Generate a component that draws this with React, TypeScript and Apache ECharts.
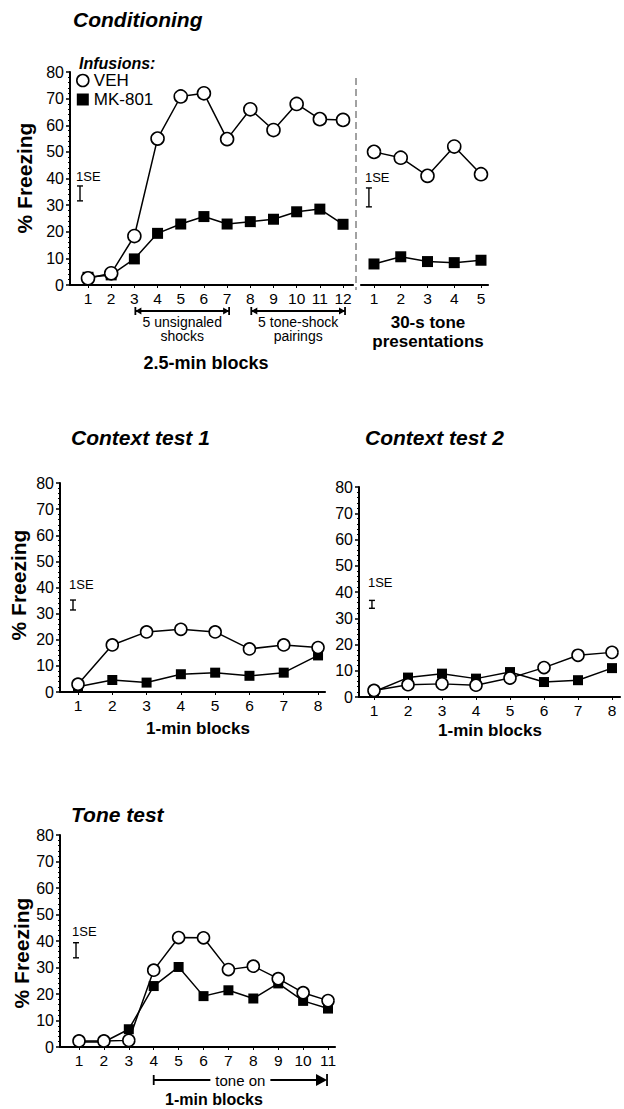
import React, { useEffect, useRef } from "react";
import * as echarts from "echarts";

// ---------- data ----------
const condBlocks = [1, 2, 3, 4, 5, 6, 7, 8, 9, 10, 11, 12];
const condVEH = [2.5, 4.4, 18.4, 55, 70.8, 72, 54.8, 66, 58.2, 68, 62.3, 62];
const condMK = [2.9, 3.8, 9.8, 19.4, 22.9, 25.7, 22.9, 23.8, 24.7, 27.5, 28.5, 22.8];

const presTrials = [1, 2, 3, 4, 5];
const presVEH = [50, 47.8, 41, 52, 41.6];
const presMK = [7.9, 10.6, 8.8, 8.4, 9.3];

const ctxBlocks = [1, 2, 3, 4, 5, 6, 7, 8];
const ctx1VEH = [3, 18, 23, 24, 23, 16.5, 18, 17];
const ctx1MK = [2, 4.6, 3.6, 6.8, 7.4, 6.2, 7.4, 14];
const ctx2VEH = [2.5, 4.7, 5, 4.5, 7.2, 11.2, 15.9, 17];
const ctx2MK = [2, 7.4, 8.9, 7, 9.5, 5.7, 6.4, 11];

const toneBlocks = [1, 2, 3, 4, 5, 6, 7, 8, 9, 10, 11];
const toneVEH = [2.3, 2.3, 2.5, 29, 41.3, 41.2, 29.2, 30.5, 25.8, 20.5, 17.5];
const toneMK = [1.9, 1.9, 6.7, 23, 30.2, 19.2, 21.4, 18.3, 24, 17.4, 14.5];

// 1 SE sizes (in % freezing units) per panel
const seSizes = [5.6, 7.1, 3.8, 3.0, 5.7];

// annotation ranges (block numbers)
const condPhases = [
  [3, 7],
  [8, 12],
];
const condPhaseLabels = [
  ["5 unsignaled", "shocks"],
  ["5 tone-shock", "pairings"],
];
const tonePhase = [[4, 11]];

// ---------- layout ----------
const FONT = "'Liberation Sans', Arial, Helvetica, sans-serif";
const panels = [
  { left: 70, width: 283, top: 72, height: 213, min: 0.2235, max: 12.43, ticks: condBlocks, showY: true },
  { left: 361, width: 127, top: 72, height: 213, min: 0.514, max: 5.262, ticks: presTrials, showY: false },
  { left: 60, width: 265, top: 483, height: 209, min: 0.475, max: 8.203, ticks: ctxBlocks, showY: true },
  { left: 359, width: 261, top: 487, height: 210, min: 0.559, max: 8.235, ticks: ctxBlocks, showY: true },
  { left: 60, width: 275, top: 835, height: 212, min: 0.237, max: 11.28, ticks: toneBlocks, showY: true },
];
// SE bar placement (x in block units, centre in % units, label gap px)
const sePlace = [
  { x: 0.655, y: 34.4, gap: 3 },
  { x: 0.81, y: 32.9, gap: 4 },
  { x: 0.854, y: 33.3, gap: 9 },
  { x: 0.94, y: 35.3, gap: 11 },
  { x: 0.88, y: 36.5, gap: 5 },
];

const seriesSets = [
  { x: condBlocks, veh: condVEH, mk: condMK, vs: 13, ms: 11 },
  { x: presTrials, veh: presVEH, mk: presMK, vs: 13, ms: 11 },
  { x: ctxBlocks, veh: ctx1VEH, mk: ctx1MK, vs: 12, ms: 10 },
  { x: ctxBlocks, veh: ctx2VEH, mk: ctx2MK, vs: 12, ms: 10 },
  { x: toneBlocks, veh: toneVEH, mk: toneMK, vs: 12, ms: 10 },
];

function buildOption(): any {
  const grid = panels.map((p) => ({ left: p.left, top: p.top, width: p.width, height: p.height, containLabel: false }));
  const xAxis = panels.map((p, i) => ({
    type: "value",
    gridIndex: i,
    min: p.min,
    max: p.max,
    axisLine: { show: true, onZero: false, lineStyle: { color: "#000", width: 2.2 } },
    axisTick: { show: true, length: 3, customValues: p.ticks, lineStyle: { color: "#000", width: 1 } },
    axisLabel: { customValues: p.ticks, fontSize: 15.5, color: "#000", fontFamily: FONT, margin: 5 },
    splitLine: { show: false },
  }));
  const yAxis = panels.map((p, i) => ({
    type: "value",
    gridIndex: i,
    min: 0,
    max: 80,
    interval: 10,
    show: p.showY,
    axisLine: { show: true, onZero: false, lineStyle: { color: "#000", width: 2 } },
    axisTick: { show: true, length: 4, lineStyle: { color: "#000", width: 1.5 } },
    minorTick: { show: true, splitNumber: 5, length: 2, lineStyle: { color: "#000", width: 1 } },
    axisLabel: { fontSize: 16, color: "#000", fontFamily: FONT, margin: 6 },
    splitLine: { show: false },
  }));

  const series: any[] = [];
  seriesSets.forEach((s, i) => {
    series.push({
      type: "line",
      name: "MK-801",
      xAxisIndex: i,
      yAxisIndex: i,
      data: s.x.map((x, k) => [x, s.mk[k]]),
      symbol: "rect",
      symbolSize: s.ms,
      showAllSymbol: true,
      itemStyle: { color: "#000" },
      lineStyle: { color: "#000", width: 1.5 },
      z: 2,
      silent: true,
    });
    series.push({
      type: "line",
      name: "VEH",
      xAxisIndex: i,
      yAxisIndex: i,
      data: s.x.map((x, k) => [x, s.veh[k]]),
      symbol: "circle",
      symbolSize: s.vs,
      showAllSymbol: true,
      itemStyle: { color: "#fff", borderColor: "#000", borderWidth: 1.6 },
      lineStyle: { color: "#000", width: 1.5 },
      z: 3,
      silent: true,
    });
    // 1 SE indicator
    const pl = sePlace[i];
    series.push({
      type: "custom",
      xAxisIndex: i,
      yAxisIndex: i,
      data: [[pl.x, pl.y, seSizes[i]]],
      silent: true,
      z: 4,
      renderItem: (params: any, api: any) => {
        const x = api.value(0);
        const yc = api.value(1);
        const h = api.value(2) / 2;
        const top = api.coord([x, yc + h]);
        const bot = api.coord([x, yc - h]);
        const cx = top[0];
        const st = { stroke: "#000", lineWidth: 1.4 };
        return {
          type: "group",
          children: [
            { type: "line", shape: { x1: cx, y1: top[1], x2: cx, y2: bot[1] }, style: st },
            { type: "line", shape: { x1: cx - 3, y1: top[1], x2: cx + 3, y2: top[1] }, style: st },
            { type: "line", shape: { x1: cx - 3, y1: bot[1], x2: cx + 3, y2: bot[1] }, style: st },
            {
              type: "text",
              x: cx - 4,
              y: top[1] - pl.gap,
              style: { text: "1SE", fontSize: 13, fontFamily: FONT, fill: "#000", align: "left", verticalAlign: "bottom" },
            },
          ],
        };
      },
    });
  });

  // conditioning phase brackets
  series.push({
    type: "custom",
    xAxisIndex: 0,
    yAxisIndex: 0,
    data: condPhases,
    silent: true,
    clip: false,
    renderItem: (params: any, api: any) => {
      const a = api.coord([api.value(0), 0]);
      const b = api.coord([api.value(1), 0]);
      const y = a[1] + 26;
      const x1 = a[0] + 1;
      const x2 = b[0] + 2;
      const st = { stroke: "#000", lineWidth: 1.8 };
      const labels = condPhaseLabels[params.dataIndex];
      const cx = (x1 + x2) / 2;
      return {
        type: "group",
        children: [
          { type: "line", shape: { x1, y1: y, x2, y2: y }, style: st },
          { type: "line", shape: { x1, y1: y - 4, x2: x1, y2: y + 4 }, style: st },
          { type: "line", shape: { x1: x2, y1: y - 4, x2, y2: y + 4 }, style: st },
          { type: "polygon", shape: { points: [[x1, y], [x1 + 6, y - 3.5], [x1 + 6, y + 3.5]] }, style: { fill: "#000" } },
          { type: "polygon", shape: { points: [[x2, y], [x2 - 6, y - 3.5], [x2 - 6, y + 3.5]] }, style: { fill: "#000" } },
          { type: "text", x: cx, y: y + 11, style: { text: labels[0], fontSize: 14, fontFamily: FONT, fill: "#000", align: "center", verticalAlign: "middle" } },
          { type: "text", x: cx, y: y + 25, style: { text: labels[1], fontSize: 14, fontFamily: FONT, fill: "#000", align: "center", verticalAlign: "middle" } },
        ],
      };
    },
  });

  // tone-on arrow
  series.push({
    type: "custom",
    xAxisIndex: 4,
    yAxisIndex: 4,
    data: tonePhase,
    silent: true,
    clip: false,
    renderItem: (params: any, api: any) => {
      const a = api.coord([api.value(0), 0]);
      const b = api.coord([api.value(1), 0]);
      const y = a[1] + 33;
      const x1 = a[0];
      const x2 = b[0] - 1;
      const cx = (x1 + x2) / 2;
      const st = { stroke: "#000", lineWidth: 1.8 };
      return {
        type: "group",
        children: [
          { type: "line", shape: { x1, y1: y, x2: cx - 30, y2: y }, style: st },
          { type: "line", shape: { x1: cx + 30, y1: y, x2: x2 - 8, y2: y }, style: st },
          { type: "line", shape: { x1, y1: y - 5, x2: x1, y2: y + 5 }, style: st },
          { type: "line", shape: { x1: x2, y1: y - 6, x2, y2: y + 6 }, style: st },
          { type: "polygon", shape: { points: [[x2, y], [x2 - 11, y - 6], [x2 - 11, y + 6]] }, style: { fill: "#000" } },
          { type: "text", x: cx, y: y, style: { text: "tone on", fontSize: 15, fontFamily: FONT, fill: "#000", align: "center", verticalAlign: "middle" } },
        ],
      };
    },
  });

  const txt = (text: string, x: number, y: number, size: number, bold: boolean, extra: any = {}) => ({
    type: "text",
    x,
    y,
    silent: true,
    ...extra,
    style: {
      text,
      fontSize: size,
      fontFamily: FONT,
      fontWeight: bold ? "bold" : "normal",
      fill: "#000",
      align: "center",
      verticalAlign: "middle",
      ...(extra.style || {}),
    },
  });

  const graphic: any[] = [
    txt("Infusions:", 79, 63, 16, true, { style: { align: "left", fontStyle: "italic" } }),
    txt("2.5-min blocks", 206, 363, 18, true),
    txt("30-s tone", 428, 322, 17, true),
    txt("presentations", 428, 341, 17, true),
    txt("1-min blocks", 198, 728, 17, true),
    txt("1-min blocks", 490, 730, 17, true),
    txt("1-min blocks", 214, 1099, 16, true),
    txt("% Freezing", 24, 178, 21, true, { rotation: Math.PI / 2 }),
    txt("% Freezing", 18, 585, 21, true, { rotation: Math.PI / 2 }),
    txt("% Freezing", 21, 953, 21, true, { rotation: Math.PI / 2 }),
    {
      type: "line",
      silent: true,
      shape: { x1: 356, y1: 78, x2: 356, y2: 290 },
      style: { stroke: "#444", lineWidth: 1, lineDash: [7, 4] },
    },
  ];

  const titleStyle = { fontSize: 21, fontWeight: "bold", fontStyle: "italic", fontFamily: FONT, color: "#000" };
  const title = [
    { text: "Conditioning", left: 73, top: 9, padding: 0, textStyle: titleStyle },
    { text: "Context test 1", left: 71, top: 427, padding: 0, textStyle: titleStyle },
    { text: "Context test 2", left: 365, top: 427, padding: 0, textStyle: titleStyle },
    { text: "Tone test", left: 71, top: 804, padding: 0, textStyle: titleStyle },
  ];

  return {
    animation: false,
    backgroundColor: "#fff",
    title,
    legend: {
      data: [
        { name: "VEH", icon: "circle", itemStyle: { color: "#fff", borderColor: "#000", borderWidth: 1.6 } },
        { name: "MK-801", icon: "rect", itemStyle: { color: "#000" } },
      ],
      orient: "vertical",
      left: 76,
      top: 72,
      itemWidth: 12,
      itemHeight: 12,
      itemGap: 2,
      padding: 0,
      selectedMode: false,
      textStyle: { fontSize: 17, fontFamily: FONT, color: "#000", padding: [0, 0, 0, 0] },
    },
    grid,
    xAxis,
    yAxis,
    series,
    graphic,
  };
}

export default function App() {
  const ref = useRef<HTMLDivElement>(null);
  useEffect(() => {
    if (!ref.current) return;
    const chart = echarts.init(ref.current, undefined, { renderer: "svg" });
    chart.setOption(buildOption());
    return () => chart.dispose();
  }, []);
  return (
    <div
      ref={ref}
      style={{ position: "absolute", left: 0, top: 0, width: 624, height: 1109, background: "#fff" }}
    />
  );
}
